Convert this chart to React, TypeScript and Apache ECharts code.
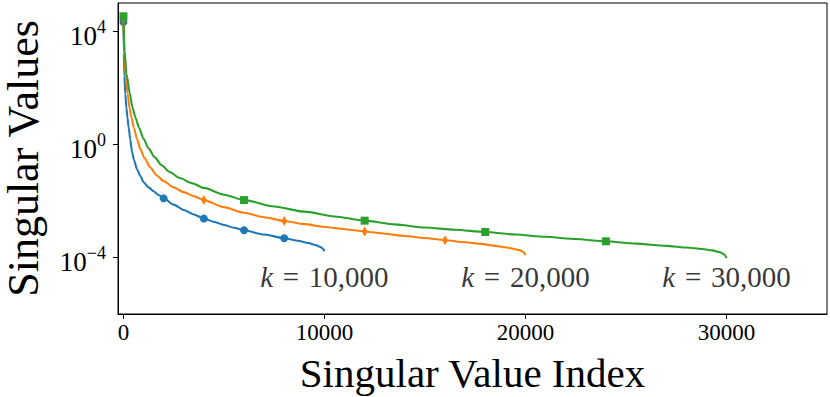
import React, { useEffect, useRef } from 'react';
import * as echarts from 'echarts';

// Singular value curves (index, singular value)
const blueIdx = [0, 20, 50, 94, 150, 200, 260, 340, 425, 530, 675, 830, 1005, 1250, 1500, 1750, 2000, 2500, 3000, 3500, 4000, 4500, 5000, 5500, 6000, 7000, 8000, 8700, 9200, 9550, 9800, 9930, 9999];
const blueVals = [2.14e4, 1.58e3, 251, 60.3, 19.1, 8.91, 3.98, 1.51, 0.562, 0.275, 0.132, 0.0794, 0.0457, 0.0302, 0.0219, 0.0162, 0.0123, 7.41e-3, 4.79e-3, 3.31e-3, 2.40e-3, 1.82e-3, 1.41e-3, 1.12e-3, 9.12e-4, 6.46e-4, 4.79e-4, 3.89e-4, 3.24e-4, 2.75e-4, 2.34e-4, 2.04e-4, 1.66e-4];
const blueMarks = [0, 2000, 4000, 6000, 8000];

const orangeIdx = [0, 40, 100, 210, 300, 400, 520, 680, 850, 1060, 1340, 1660, 2000, 2500, 3000, 3500, 4000, 5000, 6000, 7000, 8000, 9000, 10000, 11000, 12000, 13000, 14000, 15000, 16000, 17000, 17800, 18400, 19000, 19400, 19700, 19880, 19960, 19999];
const orangeVals = [2.69e4, 2.0e3, 316, 63.1, 20.0, 8.91, 3.80, 1.51, 0.661, 0.316, 0.151, 0.0794, 0.0501, 0.0302, 0.0204, 0.0148, 0.0107, 6.03e-3, 3.80e-3, 2.63e-3, 1.95e-3, 1.51e-3, 1.20e-3, 1.0e-3, 8.32e-4, 6.92e-4, 5.75e-4, 4.90e-4, 4.07e-4, 3.47e-4, 3.02e-4, 2.63e-4, 2.29e-4, 2.04e-4, 1.82e-4, 1.58e-4, 1.38e-4, 1.20e-4];
const orangeMarks = [0, 4000, 8000, 12000, 16000];

const greenIdx = [0, 60, 150, 320, 450, 600, 780, 1000, 1250, 1550, 1900, 2300, 2800, 3400, 4000, 5000, 6000, 7500, 9000, 10500, 12000, 13500, 15000, 16500, 18000, 19500, 21000, 22500, 24000, 25500, 27000, 28000, 28800, 29300, 29650, 29880, 29960, 29999];
const greenVals = [3.39e4, 2.0e3, 316, 63.1, 20.0, 8.91, 3.80, 1.58, 0.724, 0.355, 0.182, 0.105, 0.0646, 0.0427, 0.0288, 0.0166, 0.0107, 6.31e-3, 4.17e-3, 2.82e-3, 2.0e-3, 1.48e-3, 1.15e-3, 9.55e-4, 7.94e-4, 6.46e-4, 5.37e-4, 4.47e-4, 3.72e-4, 3.09e-4, 2.57e-4, 2.24e-4, 2.0e-4, 1.78e-4, 1.55e-4, 1.29e-4, 1.10e-4, 9.33e-5];
const greenMarks = [0, 6000, 12000, 18000, 24000];

const xTicks = [0, 10000, 20000, 30000];
const yTickExps = [-4, 0, 4];

const kPositions = [10000, 20000, 30000];
const kLabels = ['10,000', '20,000', '30,000'];
const kLabelValue = 2e-5;

const FONT = 'Liberation Serif';
const BLUE = '#1f77b4';
const ORANGE = '#ff7f0e';
const GREEN = '#2ca02c';

function buildLine(idx: number[], vals: number[], marks: number[], symbol: string, size: any) {
  return idx.map((x, i) => {
    const item: any = { value: [x, Math.log10(vals[i])] };
    if (marks.includes(x)) {
      item.symbol = symbol;
      item.symbolSize = size;
    } else {
      item.symbol = 'none';
    }
    return item;
  });
}

function lineSeries(name: string, color: string, data: any[], z: number) {
  return {
    name,
    type: 'line',
    data,
    symbol: 'circle',
    showSymbol: true,
    smooth: 0.25,
    smoothMonotone: 'x',
    lineStyle: { color, width: 2.1 },
    itemStyle: { color, borderWidth: 0 },
    z,
    silent: true,
  };
}

export default function App() {
  const ref = useRef<HTMLDivElement>(null);
  useEffect(() => {
    if (!ref.current) return;
    const chart = echarts.init(ref.current, undefined, { renderer: 'svg' });
    const option: any = {
      animation: false,
      textStyle: { fontFamily: FONT },
      grid: {
        left: 118, top: 3, right: 3, bottom: 83,
        containLabel: false,
        outerBoundsMode: 'none',
        show: true, borderColor: '#000', borderWidth: 1, backgroundColor: 'transparent',
      },
      xAxis: {
        type: 'value',
        min: -270,
        max: 35000,
        name: 'Singular Value Index',
        nameLocation: 'middle',
        nameGap: 38,
        nameTextStyle: { fontFamily: FONT, fontSize: 41, color: '#000' },
        axisLine: { show: true, onZero: false, lineStyle: { color: '#000', width: 1 } },
        axisTick: { show: true, length: 5, lineStyle: { color: '#000', width: 1 }, customValues: xTicks },
        axisLabel: {
          customValues: xTicks,
          fontFamily: FONT, fontSize: 23, color: '#000', margin: 7,
          formatter: (v: number) => String(v),
        },
        splitLine: { show: false },
      },
      yAxis: {
        type: 'value',
        min: -6,
        max: 5,
        name: 'Singular Values',
        nameLocation: 'middle',
        nameGap: 73,
        nameTextStyle: { fontFamily: FONT, fontSize: 44, color: '#000' },
        axisLine: { show: true, onZero: false, lineStyle: { color: '#000', width: 1 } },
        axisTick: { show: true, length: 5, lineStyle: { color: '#000', width: 1 }, customValues: yTickExps },
        axisLabel: {
          customValues: yTickExps,
          margin: 12,
          fontFamily: FONT,
          fontSize: 27,
          color: '#000',
          padding: [5, 0, 0, 0],
          formatter: (v: number) => `{b|10}{s|${v < 0 ? '\u2212' + (-v) : v}}`,
          rich: {
            b: { fontFamily: FONT, fontSize: 27, color: '#000', lineHeight: 32, verticalAlign: 'bottom' },
            s: { fontFamily: FONT, fontSize: 18, color: '#000', lineHeight: 18, verticalAlign: 'top' },
          },
        },
        splitLine: { show: false },
      },
      series: [
        lineSeries('k = 10,000', BLUE, buildLine(blueIdx, blueVals, blueMarks, 'circle', 8), 2),
        lineSeries('k = 20,000', ORANGE, buildLine(orangeIdx, orangeVals, orangeMarks, 'diamond', [6, 10]), 3),
        lineSeries('k = 30,000', GREEN, buildLine(greenIdx, greenVals, greenMarks, 'rect', 8), 4),
        {
          type: 'scatter',
          data: kPositions.map((k) => ({ value: [k, Math.log10(kLabelValue)] })),
          symbol: 'circle',
          symbolSize: 1,
          itemStyle: { color: 'rgba(0,0,0,0)' },
          silent: true,
          z: 5,
          label: {
            show: true,
            position: 'inside',
            fontFamily: FONT,
            fontSize: 29,
            color: '#000',
            formatter: (p: any) => `{i|k}{r|\u2004=\u2004${kLabels[p.dataIndex]}}`,
            rich: {
              i: { fontFamily: FONT, fontSize: 29, fontStyle: 'italic', color: '#000' },
              r: { fontFamily: FONT, fontSize: 29, color: '#000' },
            },
          },
        },
      ],
    };
    chart.setOption(option);
    return () => chart.dispose();
  }, []);
  return (
    <div
      ref={ref}
      style={{ position: 'fixed', left: 0, top: 0, width: 830, height: 397, background: '#fff' }}
    />
  );
}
